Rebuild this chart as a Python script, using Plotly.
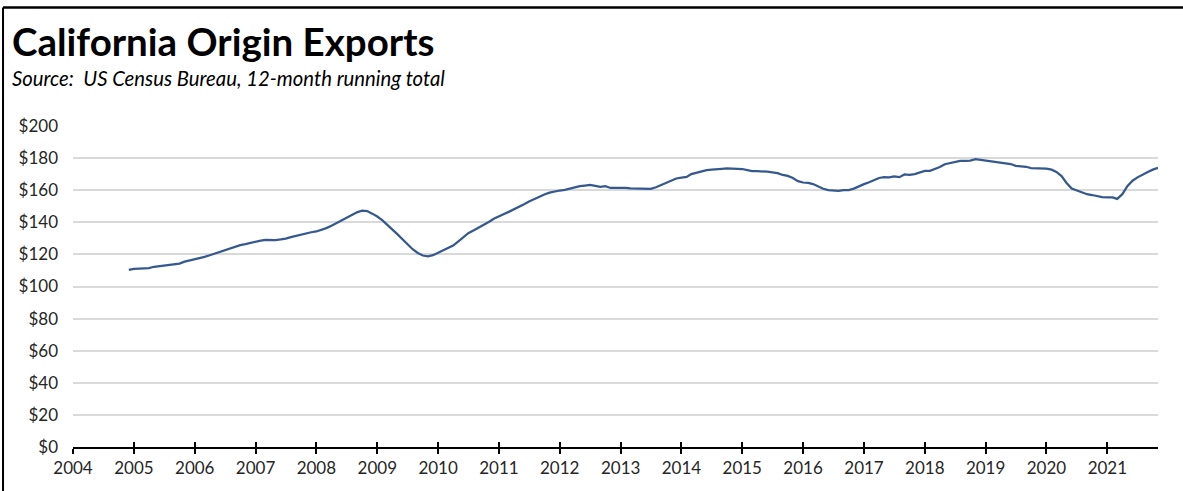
import pandas as pd
import plotly.graph_objects as go

# Monthly 12-month running total, $ billions (Dec 2004 - Nov 2021)
v2004 = [110.3]
v2005 = [111.0, 111.2, 111.2, 111.4, 112.3, 112.7, 113.0, 113.3, 113.5, 114.3, 115.5, 116.2]
v2006 = [117.0, 117.7, 118.5, 119.5, 120.6, 121.8, 122.8, 123.8, 124.8, 125.8, 126.4, 127.2]
v2007 = [127.9, 128.6, 129.1, 129.0, 128.9, 129.3, 129.8, 130.8, 131.6, 132.5, 133.3, 133.8]
v2008 = [134.3, 135.3, 136.4, 137.8, 139.5, 141.2, 142.8, 144.7, 146.2, 147.2, 147.0, 145.4]
v2009 = [143.6, 141.2, 138.6, 136.0, 132.6, 129.4, 126.2, 123.2, 120.9, 119.3, 118.8, 119.5]
v2010 = [121.0, 122.4, 123.9, 125.5, 128.0, 130.7, 133.2, 134.9, 136.6, 138.3, 140.2, 142.2]
v2011 = [143.9, 145.2, 146.5, 148.0, 149.5, 151.3, 153.0, 154.6, 156.0, 157.3, 158.5, 159.3]
v2012 = [159.8, 160.2, 161.0, 161.8, 162.5, 162.9, 163.3, 162.7, 162.1, 162.5, 161.4, 161.5]
v2013 = [161.7, 161.5, 161.2, 161.1, 161.0, 160.6, 160.8, 161.8, 163.2, 164.2, 165.8, 167.3]
v2014 = [167.8, 168.3, 170.0, 171.0, 171.7, 172.5, 172.8, 172.9, 173.3, 173.6, 173.6, 173.6]
v2015 = [173.2, 172.5, 171.9, 171.9, 171.8, 171.5, 171.1, 170.6, 169.5, 168.9, 167.6, 165.6]
v2016 = [164.8, 164.6, 163.8, 162.2, 160.9, 160.0, 159.6, 159.6, 160.0, 160.1, 161.0, 162.5]
v2017 = [163.8, 165.0, 166.3, 167.6, 168.1, 168.0, 168.6, 168.1, 169.8, 169.6, 170.0, 171.2]
v2018 = [172.0, 172.1, 173.2, 174.4, 176.2, 176.9, 177.5, 178.3, 178.3, 178.4, 179.3, 178.9]
v2019 = [178.2, 178.0, 177.7, 177.3, 176.9, 176.3, 175.2, 175.0, 174.6, 173.8, 173.6, 173.6]
v2020 = [173.5, 172.8, 171.4, 168.8, 164.5, 161.0, 159.8, 159.0, 157.5, 157.0, 156.4, 155.7]
v2021 = [155.6, 155.5, 154.6, 157.5, 162.5, 165.9, 168.0, 169.8, 171.4, 172.8, 174.0]

values = (v2004 + v2005 + v2006 + v2007 + v2008 + v2009 + v2010 + v2011 + v2012
          + v2013 + v2014 + v2015 + v2016 + v2017 + v2018 + v2019 + v2020 + v2021)
dates = pd.date_range("2004-12-01", periods=len(values), freq="MS")

tick_years = list(range(2004, 2022))
tick_dates = [f"{y}-01-01" for y in tick_years]
tick_text = [str(y) for y in tick_years]
y_ticks = list(range(0, 201, 20))
y_text = [f"${v}" for v in y_ticks]

title = "California Origin Exports"
subtitle = "Source:  US Census Bureau, 12-month running total"

FONT = "Lato"
x_range = ["2004-01-01", "2021-11-01"]

fig = go.Figure()
fig.add_trace(go.Scatter(x=dates, y=values, mode="lines",
                         line=dict(color="#35598F", width=2.25),
                         showlegend=False, hoverinfo="x+y"))
# invisible companion trace so the overlay axis (inner half of the tick marks) is drawn
fig.add_trace(go.Scatter(x=dates[:1], y=[None], xaxis="x2", yaxis="y", mode="lines",
                         showlegend=False, hoverinfo="skip"))

fig.update_layout(
    width=1183, height=491,
    margin=dict(l=73, r=25, t=126, b=44),
    paper_bgcolor="white", plot_bgcolor="white",
    font=dict(family=FONT, size=17, color="#262626"),
    xaxis=dict(type="date", range=x_range, tickvals=tick_dates, ticktext=tick_text,
               showgrid=False, zeroline=False, showline=True, linecolor="black",
               linewidth=2, ticks="outside", ticklen=5, tickwidth=2, tickcolor="black",
               automargin=False,
               tickfont=dict(family=FONT, size=17, color="#262626")),
    xaxis2=dict(type="date", range=x_range, tickvals=tick_dates, overlaying="x",
                anchor="y", side="bottom", showgrid=False, zeroline=False,
                showline=False, showticklabels=False, ticks="inside", ticklen=5,
                tickwidth=2, tickcolor="black"),
    yaxis=dict(range=[0, 200], tickvals=y_ticks, ticktext=y_text, showgrid=True,
               gridcolor="#D9D9D9", gridwidth=1.6, zeroline=False, showline=False,
               ticks="", ticklabelstandoff=14,
               tickfont=dict(family=FONT, size=17, color="#262626")),
    annotations=[
        dict(text=f"<b>{title}</b>", xref="paper", yref="paper", x=-0.0581, y=1.2648,
             xanchor="left", yanchor="middle", showarrow=False,
             font=dict(family=FONT, size=38.5, color="black")),
        dict(text=f"<i>{subtitle}</i>", xref="paper", yref="paper", x=-0.0581, y=1.1495,
             xanchor="left", yanchor="middle", showarrow=False,
             font=dict(family=FONT, size=20.3, color="black")),
    ],
    shapes=[
        dict(type="line", xref="paper", yref="paper", x0=-0.0645, x1=1.03,
             y0=1.3692, y1=1.3692, line=dict(color="black", width=2.5)),
        dict(type="line", xref="paper", yref="paper", x0=-0.0645, x1=-0.0645,
             y0=1.3692, y1=-0.2, line=dict(color="black", width=2)),
    ],
)

fig.write_html("out.html")
